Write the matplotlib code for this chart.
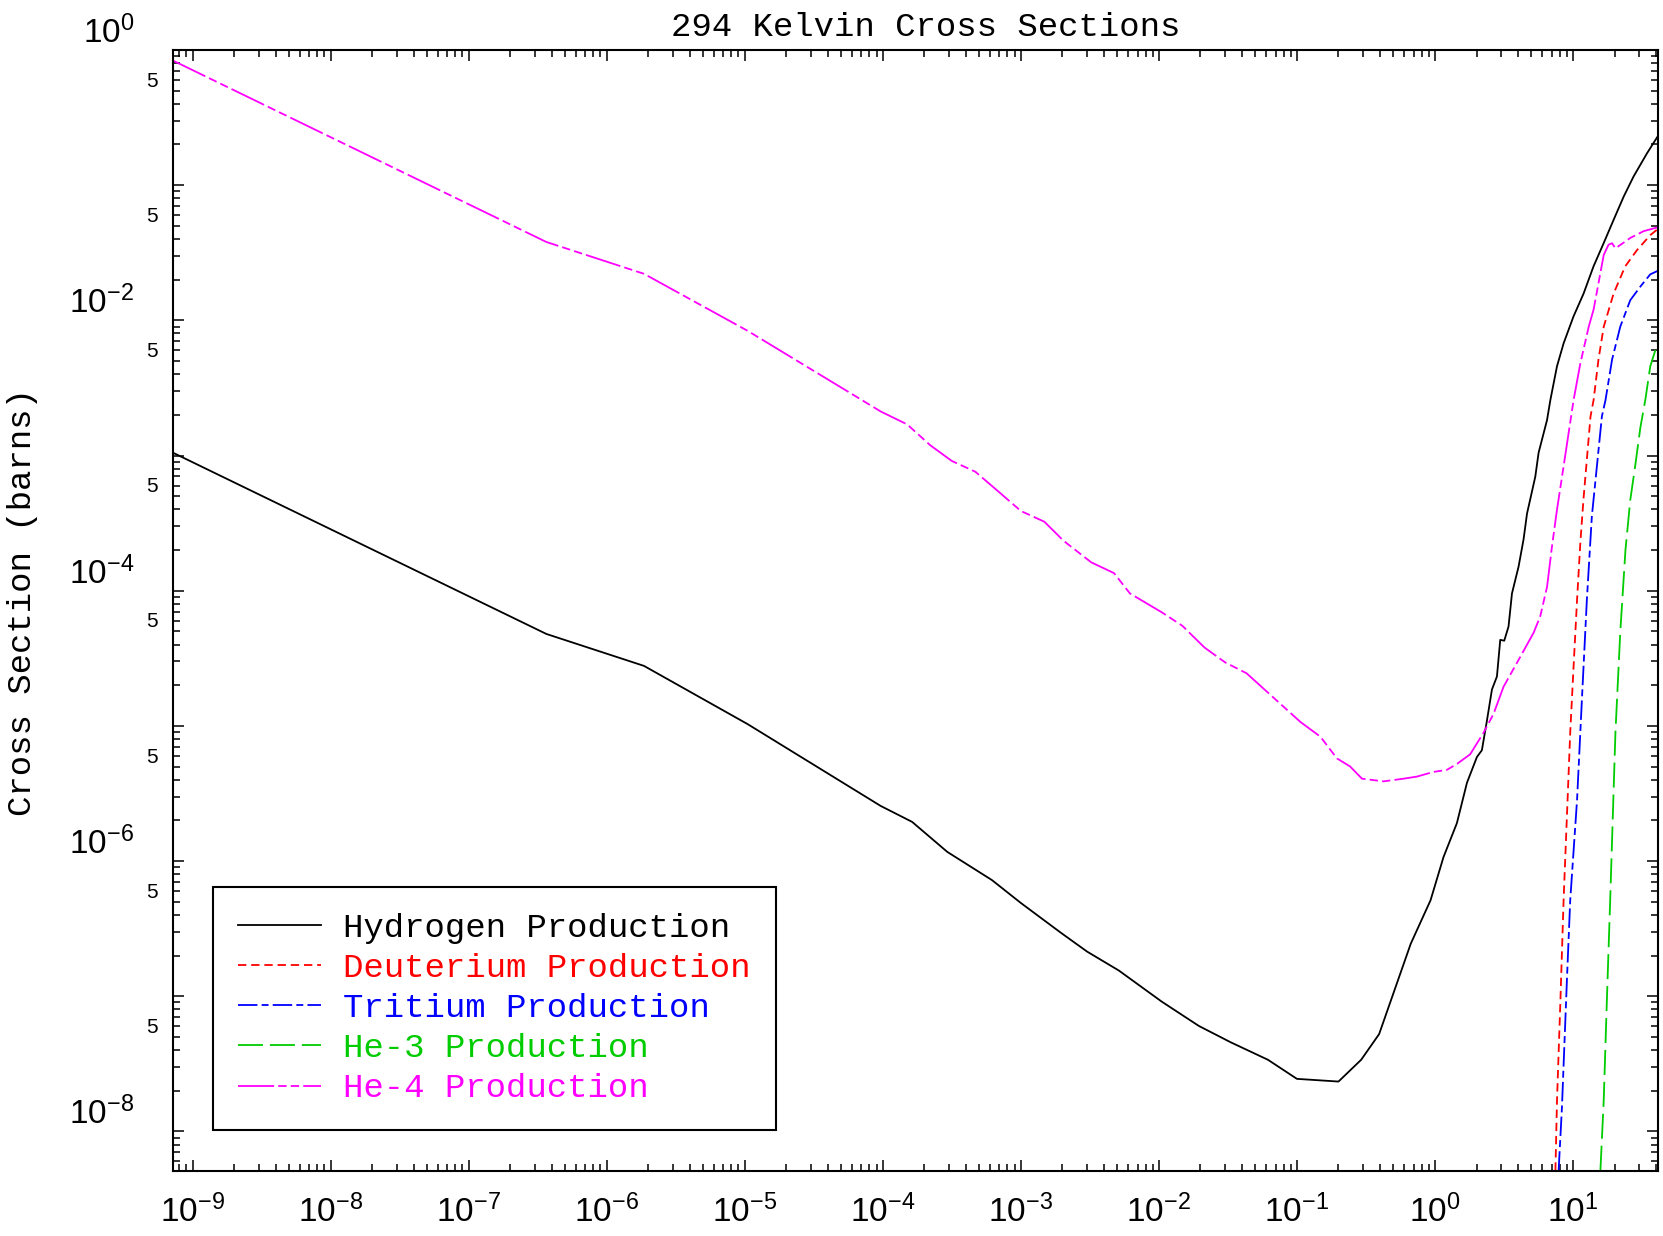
import matplotlib
matplotlib.use('Agg')
import matplotlib.pyplot as plt
from matplotlib.ticker import FixedLocator, FuncFormatter, LogLocator
import numpy as np

plt.rcParams['lines.scale_dashes'] = False
plt.rcParams['mathtext.fontset'] = 'custom'
for k in ['rm', 'it', 'bf', 'sf']:
    plt.rcParams['mathtext.' + k] = 'Liberation Sans'
plt.rcParams['mathtext.default'] = 'regular'

# ---------------- data (energy, cross section in barns) ----------------
h_x = [7.19e-10, 3.65e-7, 1.86e-6, 1.05e-5, 9.64e-5, 1.63e-4, 2.93e-4, 6.17e-4,
       1.0e-3, 1.95e-3, 3.02e-3, 5.13e-3, 1.05e-2, 1.95e-2, 3.31e-2, 6.17e-2,
       0.1, 0.2, 0.292, 0.394, 0.668, 0.929, 1.153, 1.442, 1.706, 2.014, 2.188,
       2.382, 2.588, 2.812, 2.972, 3.177, 3.412, 3.614, 4.036, 4.385, 4.645,
       5.333, 5.636, 6.486, 6.855, 7.656, 8.551, 10.09, 11.94, 14.09, 16.67,
       19.68, 23.28, 27.48, 34.36, 41.69]
h_y = [1.05e-3, 4.79e-5, 2.78e-5, 1.03e-5, 2.56e-6, 1.95e-6, 1.17e-6, 7.24e-7,
       4.90e-7, 2.95e-7, 2.14e-7, 1.55e-7, 9.12e-8, 6.03e-8, 4.57e-8, 3.39e-8,
       2.45e-8, 2.34e-8, 3.39e-8, 5.25e-8, 2.45e-7, 5.13e-7, 1.07e-6, 1.91e-6,
       3.80e-6, 5.89e-6, 6.61e-6, 1.10e-5, 1.86e-5, 2.32e-5, 4.33e-5, 4.27e-5,
       5.43e-5, 9.55e-5, 1.51e-4, 2.40e-4, 3.72e-4, 6.98e-4, 1.05e-3, 1.83e-3,
       2.57e-3, 4.57e-3, 6.76e-3, 1.07e-2, 1.58e-2, 2.51e-2, 3.72e-2, 5.53e-2,
       8.22e-2, 1.16e-1, 1.72e-1, 2.35e-1]

d_x = [7.46, 7.66, 8.11, 8.55, 9.55, 10.1, 10.7, 11.3, 11.9, 12.6, 13.4, 14.1,
       15.3, 16.7, 19.7, 23.9, 29.1, 36.3, 41.7]
d_y = [5.13e-9, 1.70e-8, 9.33e-8, 5.13e-7, 8.91e-6, 2.75e-5, 8.51e-5, 2.24e-4,
       4.68e-4, 9.33e-4, 1.95e-3, 2.57e-3, 5.13e-3, 8.97e-3, 1.58e-2, 2.51e-2,
       3.31e-2, 4.27e-2, 4.79e-2]

t_x = [7.87, 8.32, 9.06, 9.55, 10.7, 11.6, 12.6, 13.7, 14.9, 16.2, 17.2, 19.2,
       22.0, 26.0, 30.8, 36.3, 41.7]
t_y = [5.13e-9, 1.51e-8, 1.41e-7, 5.13e-7, 2.82e-6, 1.55e-5, 8.51e-5, 3.55e-4,
       8.32e-4, 1.95e-3, 2.57e-3, 5.13e-3, 8.97e-3, 1.41e-2, 1.78e-2, 2.19e-2,
       2.34e-2]

he3_x = [15.8, 16.7, 17.6, 18.6, 20.3, 22.0, 24.0, 26.0, 28.2, 30.8, 33.4, 36.3, 41.7]
he3_y = [5.13e-9, 1.70e-8, 9.33e-8, 5.13e-7, 8.91e-6, 4.90e-5, 2.00e-4, 4.68e-4,
         8.32e-4, 1.62e-3, 2.57e-3, 4.57e-3, 7.16e-3]

he4_x = [7.18e-10, 3.65e-7, 1.86e-6, 1.05e-5, 9.64e-5, 1.50e-4, 2.21e-4, 3.16e-4,
         4.68e-4, 6.76e-4, 1.0e-3, 1.48e-3, 2.04e-3, 3.24e-3, 4.73e-3, 6.17e-3,
         1.05e-2, 1.48e-2, 2.14e-2, 3.02e-2, 4.32e-2, 6.76e-2, 0.106, 0.148,
         0.195, 0.243, 0.296, 0.424, 0.592, 0.741, 0.977, 1.22, 1.45, 1.80, 2.25,
         2.66, 3.14, 4.15, 5.19, 5.79, 6.49, 7.05, 7.66, 8.55, 9.29, 10.1, 11.3,
         13.0, 14.1, 15.3, 16.7, 18.1, 19.2, 20.3, 26.0, 32.5, 41.7]
he4_y = [0.836, 3.80e-2, 2.21e-2, 8.36e-3, 2.12e-3, 1.70e-3, 1.19e-3, 9.12e-4,
         7.59e-4, 5.50e-4, 3.89e-4, 3.24e-4, 2.34e-4, 1.62e-4, 1.35e-4, 9.55e-5,
         6.92e-5, 5.50e-5, 3.80e-5, 2.95e-5, 2.45e-5, 1.62e-5, 1.07e-5, 8.32e-6,
         5.75e-6, 5.01e-6, 4.07e-6, 3.89e-6, 4.07e-6, 4.22e-6, 4.57e-6, 4.73e-6,
         5.25e-6, 6.17e-6, 8.91e-6, 1.23e-5, 1.95e-5, 3.24e-5, 4.90e-5, 6.46e-5,
         1.07e-4, 2.14e-4, 3.98e-4, 8.32e-4, 1.46e-3, 2.57e-3, 4.79e-3, 8.97e-3,
         1.20e-2, 1.88e-2, 3.05e-2, 3.63e-2, 3.72e-2, 3.41e-2, 4.07e-2, 4.57e-2,
         4.90e-2]

labels = ['Hydrogen Production', 'Deuterium Production', 'Tritium Production',
          'He-3 Production', 'He-4 Production']
colors = ['#000000', '#ff0000', '#0000ff', '#00cc00', '#ff00ff']
title = '294 Kelvin Cross Sections'
ylabel = 'Cross Section (barns)'
x_major = [1e-9, 1e-8, 1e-7, 1e-6, 1e-5, 1e-4, 1e-3, 1e-2, 1e-1, 1e0, 1e1]
y_major = [1e0, 1e-1, 1e-2, 1e-3, 1e-4, 1e-5, 1e-6, 1e-7, 1e-8]

# ---------------- figure ----------------
W, H = 1663, 1236
fig = plt.figure(figsize=(W / 100, H / 100), dpi=100)
ax = fig.add_axes([173 / W, 1 - 1171 / H, (1658 - 173) / W, (1171 - 50) / H])
ax.set_xscale('log')
ax.set_yscale('log')

styles = ['-', (0, (6, 3.5)), (0, (14, 3, 5, 3)), (0, (18, 5)),
          (0, (26, 3, 6, 3, 6, 3))]
series = [(h_x, h_y), (d_x, d_y), (t_x, t_y), (he3_x, he3_y), (he4_x, he4_y)]
for (sx, sy), lab, c, ls in zip(series, labels, colors, styles):
    ax.plot(sx, sy, color=c, linestyle=ls, lw=1.3, label=lab)

ax.set_xlim(7.2e-10, 41.3)
ax.set_ylim(5.1e-9, 1.0)

for s in ax.spines.values():
    s.set_linewidth(1.5)

ax.xaxis.set_major_locator(FixedLocator(x_major))
ax.xaxis.set_minor_locator(LogLocator(base=10, subs=np.arange(2, 10), numticks=100))
ax.yaxis.set_major_locator(FixedLocator(y_major))
ax.yaxis.set_minor_locator(LogLocator(base=10, subs=np.arange(2, 10), numticks=100))


def sup(e):
    return r'$10^{%d}$' % e


def xfmt(v, pos):
    return sup(int(round(np.log10(v))))


def ymaj(v, pos):
    e = int(round(np.log10(v)))
    return sup(e) if e % 2 == 0 else ''


def ymin(v, pos):
    if v < 6e-9:
        return ''
    e = np.floor(np.log10(v) + 1e-9)
    m = v / 10 ** e
    return '5' if abs(m - 5) < 0.01 else ''


ax.xaxis.set_major_formatter(FuncFormatter(xfmt))
ax.xaxis.set_minor_formatter(FuncFormatter(lambda v, p: ''))
ax.yaxis.set_major_formatter(FuncFormatter(ymaj))
ax.yaxis.set_minor_formatter(FuncFormatter(ymin))

ax.tick_params(which='both', direction='in', top=True, right=True, width=1.1,
               labelfontfamily='Liberation Sans')
ax.tick_params(which='major', length=8)
ax.tick_params(which='minor', length=5)
ax.tick_params(axis='x', which='major', labelsize=24, pad=17)
ax.tick_params(axis='y', which='major', labelsize=24, pad=28)
ax.tick_params(axis='y', which='minor', labelsize=15, pad=11)

fig.canvas.draw()
for lbl in ax.get_yticklabels(which='both'):
    lbl.set_verticalalignment('bottom')

mono = 'Liberation Mono'
fig.text(926 / W, 1 - 28 / H, title, ha='center', va='center', fontsize=24.5,
         family=mono)
fig.text(23 / W, 1 - 602 / H, ylabel, ha='center', va='center', rotation=90,
         fontsize=24.5, family=mono)

leg = ax.legend(loc='lower left', bbox_to_anchor=(0.0269, 0.0366), borderaxespad=0,
                prop={'family': mono, 'size': 24.5}, handlelength=2.44,
                handletextpad=0.62, labelspacing=0.27, borderpad=0.75,
                fancybox=False, framealpha=1, edgecolor='black')
leg.get_frame().set_linewidth(1.5)
for t, c in zip(leg.get_texts(), colors):
    t.set_color(c)

fig.savefig('out.png', dpi=100)
